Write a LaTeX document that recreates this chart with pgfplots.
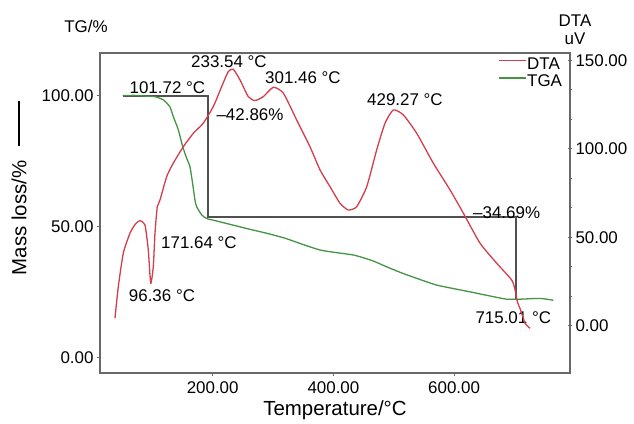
\documentclass[border=0pt]{standalone}
\usepackage{pgfplots}
\pgfplotsset{compat=1.18}
\usepackage{fontspec}
\setmainfont{Liberation Sans}
\definecolor{dtared}{RGB}{212,62,76}
\definecolor{tggreen}{RGB}{68,148,68}
\definecolor{framegray}{RGB}{105,105,105}
\definecolor{boxgray}{RGB}{80,80,80}
\newcommand{\fs}{\fontsize{17}{20}\selectfont}
\newcommand{\fl}{\fontsize{20.5}{24}\selectfont}
\begin{document}
\begin{tikzpicture}[x=1bp,y=1bp]
\useasboundingbox (0,0) rectangle (634,423);
\pgfplotsset{
  common/.style={
    at={(100bp,50.3bp)}, anchor=south west, scale only axis,
    width=470bp, height=319.7bp,
    xmin=13.3, xmax=792,
    /pgf/number format/assume math mode=true,
    /pgf/number format/.cd, fixed, fixed zerofill, precision=2, /pgfplots/.cd,
    axis line style={framegray, line width=1.6bp},
    tick style={framegray, line width=1.1bp},
    tick label style={font=\fs, text=black},
    clip=false,
  }
}
\begin{axis}[common,
  ymin=-5.9, ymax=116.3,
  xtick={200,400,600}, ytick={0,50,100},
  xtick pos=bottom, ytick pos=left,
  tick align=outside, major tick length=3bp,
  xticklabel style={yshift=-2.5bp},
  xlabel={Temperature/°C},
  ylabel={Mass loss/\% \hspace{9bp}\rule[0.33em]{45bp}{1.1bp}},
  xlabel style={font=\fl, at={(axis description cs:0.5,-0.1167)}, anchor=center},
  ylabel style={font=\fl, at={(axis description cs:-0.1723,0.578)}, anchor=center},
]
\addplot[boxgray, line width=1.8bp] coordinates {
(51,100.0) (192.7,100.0) (192.7,53.5) (702.6,53.5) (702.6,21.8)};
\addplot[tggreen, line width=1.3bp, smooth, tension=0.35] coordinates {
(51,100.0) (70,100.1) (90,99.8) (104.4,99.6) (118,98.4) (129,95.8) (134.7,92)
(143,87) (150.3,80.5) (157,76) (162.4,72.8) (167,66) (170.7,60) (173.5,57.5)
(181.8,54.4) (186,53.6) (192.7,52.8) (201,52.4) (234,50.5) (260,49) (289.5,47.4)
(320,45.5) (344.7,43.5) (377.8,41) (405,40) (433,39.1) (450,38) (466,36.8)
(490,34.4) (515.8,32) (545,29.6) (571,27.6) (600,26.2) (626.4,25) (660,23.4)
(687,22.2) (709,22.2) (742,22.5) (764.4,21.8)};
\node[font=\fs] at (axis cs:227,113) {233.54 °C};
\node[font=\fs] at (axis cs:349.5,106.9) {301.46 °C};
\node[font=\fs] at (axis cs:125,103.2) {101.72 °C};
\node[font=\fs] at (axis cs:261.8,92.6) {\textendash42.86\%};
\node[font=\fs] at (axis cs:518.6,98.6) {429.27 °C};
\node[font=\fs] at (axis cs:687,55.1) {\textendash34.69\%};
\node[font=\fs] at (axis cs:177.3,43.8) {171.64 °C};
\node[font=\fs] at (axis cs:116,23.4) {96.36 °C};
\node[font=\fs] at (axis cs:698,15.1) {715.01 °C};
\end{axis}
\begin{axis}[common,
  ymin=-26.6, ymax=154.2,
  axis y line*=right, axis x line=none,
  ytick={0,50,100,150}, minor y tick num=2,
  tick align=center, major tick length=4bp, minor tick length=3bp,
  legend style={draw=none, fill=none, at={(0.9845,0.9875)}, anchor=north east,
    font=\fs, inner sep=0pt, row sep=3bp,
    nodes={inner sep=0.5bp}},
  legend cell align=left,
  legend image code/.code={\draw[#1] (0bp,0.35em) -- (27bp,0.35em);},
]
\addplot[dtared, line width=1.3bp, smooth, tension=0.35] coordinates {
(38.1,4.2) (43.6,22) (51.9,41) (63,52.3) (72,57.5) (79.5,59.4) (87.8,57)
(93.3,42.8) (97.3,24) (101.6,33.4) (104.4,52.3) (108.2,67.3) (112.7,71.1)
(123.8,84.3) (134.7,91.9) (151.3,101.2) (167.9,108.8) (184.4,114.5) (201,123.9)
(214.9,135.2) (225.8,143.7) (234.1,145) (245.2,139) (259,129.5) (270,127.3)
(283.8,129.5) (300.4,134.8) (317,131.5) (339.2,116.3) (361.2,101.2) (377.8,88.1)
(394.4,78.6) (411,69.2) (424.7,65.4) (438.6,67.3) (455.2,78.6) (471.7,99.4)
(485.5,114.5) (499.3,122) (515.8,119.2) (538,108.8) (565.5,91.9) (593.2,76.8)
(615.3,63.6) (643,46.6) (670.6,35.3) (695.4,25.8) (701,20.2) (704.7,13.6)
(710,9) (717.5,1.4) (725.8,-1.5)};
\addlegendentry{DTA}
\addlegendimage{tggreen, line width=1.3bp}
\addlegendentry{TGA}
\end{axis}
\node[font=\fs] at (86,397) {TG/\%};
\node[font=\fs] at (575,402.3) {DTA};
\node[font=\fs] at (575,384.7) {uV};
\end{tikzpicture}
\end{document}
